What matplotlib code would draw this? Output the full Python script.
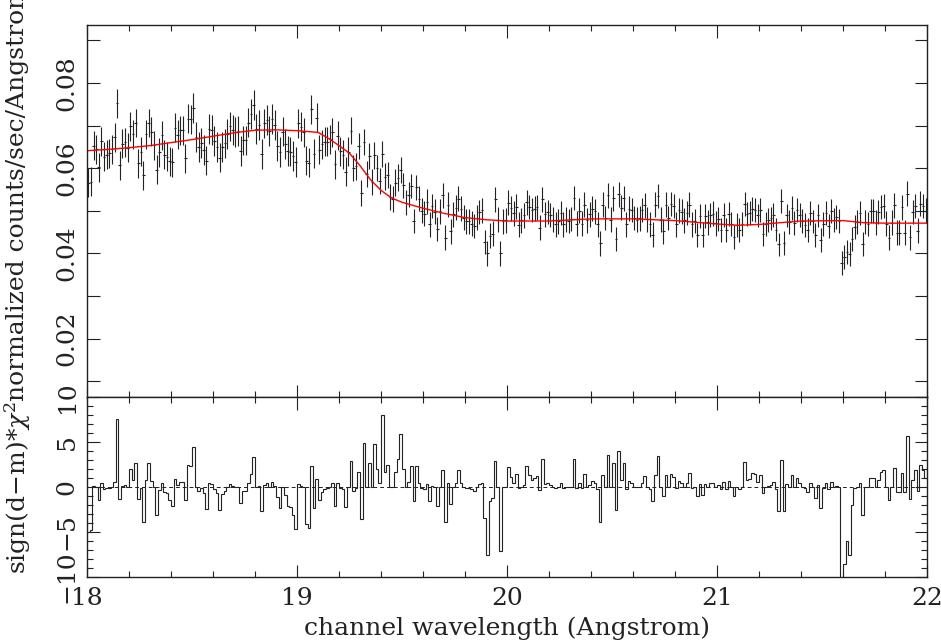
import numpy as np
import matplotlib
matplotlib.use('Agg')
import matplotlib.pyplot as plt
from matplotlib.ticker import MultipleLocator, FixedLocator

plt.rcParams['font.family'] = ['DejaVu Serif']
plt.rcParams['mathtext.fontset'] = 'dejavuserif'

# 320 channels, 18-22 Angstrom
edges = np.linspace(18.0, 22.0, 321)
centres = 0.5 * (edges[:-1] + edges[1:])

flux = [
    0.0566, 0.0568, 0.0653, 0.0644, 0.0602, 0.0663, 0.0627, 0.0631,
    0.0635, 0.0644, 0.0672, 0.0752, 0.0607, 0.0657, 0.0661, 0.0648,
    0.0698, 0.0680, 0.0706, 0.0611, 0.0639, 0.0583, 0.0680, 0.0706,
    0.0685, 0.0654, 0.0596, 0.0637, 0.0677, 0.0632, 0.0627, 0.0616,
    0.0614, 0.0695, 0.0678, 0.0689, 0.0689, 0.0623, 0.0716, 0.0715,
    0.0742, 0.0673, 0.0650, 0.0660, 0.0642, 0.0618, 0.0692, 0.0690,
    0.0664, 0.0650, 0.0625, 0.0649, 0.0658, 0.0681, 0.0698, 0.0690,
    0.0684, 0.0688, 0.0640, 0.0665, 0.0665, 0.0707, 0.0728, 0.0748,
    0.0692, 0.0701, 0.0634, 0.0705, 0.0714, 0.0688, 0.0716, 0.0701,
    0.0653, 0.0637, 0.0686, 0.0657, 0.0640, 0.0639, 0.0629, 0.0615,
    0.0705, 0.0697, 0.0684, 0.0617, 0.0613, 0.0738, 0.0634, 0.0718,
    0.0643, 0.0656, 0.0662, 0.0662, 0.0668, 0.0684, 0.0609, 0.0676,
    0.0640, 0.0632, 0.0592, 0.0639, 0.0688, 0.0601, 0.0604, 0.0652,
    0.0542, 0.0662, 0.0587, 0.0628, 0.0567, 0.0630, 0.0600, 0.0570,
    0.0633, 0.0580, 0.0584, 0.0533, 0.0527, 0.0566, 0.0578, 0.0596,
    0.0560, 0.0519, 0.0538, 0.0558, 0.0476, 0.0555, 0.0528, 0.0500,
    0.0493, 0.0521, 0.0468, 0.0511, 0.0498, 0.0457, 0.0499, 0.0536,
    0.0437, 0.0514, 0.0452, 0.0492, 0.0507, 0.0528, 0.0505, 0.0484,
    0.0475, 0.0475, 0.0470, 0.0464, 0.0484, 0.0497, 0.0501, 0.0427,
    0.0400, 0.0442, 0.0446, 0.0527, 0.0479, 0.0400, 0.0475, 0.0478,
    0.0519, 0.0506, 0.0494, 0.0510, 0.0467, 0.0478, 0.0489, 0.0520,
    0.0509, 0.0502, 0.0505, 0.0508, 0.0460, 0.0527, 0.0492, 0.0497,
    0.0490, 0.0479, 0.0468, 0.0475, 0.0495, 0.0468, 0.0479, 0.0476,
    0.0481, 0.0530, 0.0470, 0.0500, 0.0470, 0.0514, 0.0478, 0.0492,
    0.0505, 0.0499, 0.0468, 0.0424, 0.0514, 0.0483, 0.0536, 0.0479,
    0.0529, 0.0434, 0.0539, 0.0507, 0.0529, 0.0468, 0.0505, 0.0502,
    0.0483, 0.0479, 0.0482, 0.0502, 0.0513, 0.0480, 0.0468, 0.0444,
    0.0514, 0.0535, 0.0479, 0.0452, 0.0514, 0.0483, 0.0516, 0.0511,
    0.0468, 0.0501, 0.0498, 0.0478, 0.0495, 0.0514, 0.0468, 0.0476,
    0.0443, 0.0488, 0.0444, 0.0488, 0.0473, 0.0490, 0.0493, 0.0471,
    0.0481, 0.0455, 0.0490, 0.0455, 0.0492, 0.0469, 0.0439, 0.0466,
    0.0454, 0.0468, 0.0515, 0.0493, 0.0495, 0.0504, 0.0502, 0.0489,
    0.0502, 0.0445, 0.0470, 0.0478, 0.0482, 0.0491, 0.0456, 0.0421,
    0.0523, 0.0425, 0.0489, 0.0474, 0.0506, 0.0471, 0.0502, 0.0491,
    0.0477, 0.0467, 0.0454, 0.0494, 0.0475, 0.0444, 0.0489, 0.0432,
    0.0468, 0.0495, 0.0464, 0.0499, 0.0478, 0.0486, 0.0476, 0.0378,
    0.0392, 0.0404, 0.0399, 0.0434, 0.0462, 0.0474, 0.0495, 0.0422,
    0.0473, 0.0469, 0.0500, 0.0500, 0.0472, 0.0497, 0.0509, 0.0511,
    0.0470, 0.0437, 0.0472, 0.0513, 0.0449, 0.0449, 0.0508, 0.0449,
    0.0540, 0.0438, 0.0497, 0.0511, 0.0453, 0.0517, 0.0511, 0.0500,
]

# one error per 0.25 A stretch (20 channels each)
err_seg = [0.0034, 0.0034, 0.0035, 0.0035, 0.0034, 0.0031, 0.0029, 0.0029,
           0.0029, 0.0029, 0.0029, 0.0029, 0.0028, 0.0028, 0.0028, 0.0029]

model_wave = [18.0, 18.1, 18.2, 18.3, 18.4, 18.5, 18.6, 18.7, 18.8, 18.9, 19.0,
              19.1, 19.15, 19.2, 19.25, 19.3, 19.35, 19.4, 19.45, 19.5, 19.6,
              19.7, 19.8, 19.9, 20.0, 20.2, 20.4, 20.6, 20.8, 21.0, 21.1, 21.2,
              21.3, 21.4, 21.6, 21.7, 21.8, 22.0]
model_flux = [0.0641, 0.0644, 0.0648, 0.0653, 0.0660, 0.0667, 0.0675, 0.0683,
              0.0689, 0.0690, 0.0688, 0.0684, 0.0670, 0.0653, 0.0635, 0.0606,
              0.0573, 0.0548, 0.0530, 0.0520, 0.0506, 0.0494, 0.0484, 0.0479,
              0.0476, 0.0476, 0.0481, 0.0481, 0.0477, 0.0469, 0.0466, 0.0468,
              0.0472, 0.0476, 0.0477, 0.0472, 0.0471, 0.0471]

# sign(d-m)*chi^2 per channel
resid = [
    -5.0, -4.8, 0.1, 0.0, -1.4, 0.4, -0.2, -0.1,
    -0.1, 0.0, 0.6, 7.6, -1.3, 0.1, 0.2, 0.0,
    2.0, 0.8, 2.7, -1.3, -0.1, -3.9, 0.8, 2.7,
    0.7, 0.0, -3.1, -0.3, 0.4, -0.5, -0.7, -1.4,
    -2.1, 0.9, 0.2, 0.6, 0.6, -1.4, 2.4, 2.3,
    4.4, 0.0, -0.4, -0.1, -0.7, -2.4, 0.4, 0.3,
    -0.2, -0.7, -2.5, -0.8, -0.4, 0.0, 0.3, 0.1,
    0.0, 0.0, -1.8, -0.4, -0.4, 0.4, 1.5, 3.3,
    0.0, 0.1, -2.7, 0.2, 0.5, 0.0, 0.6, 0.1,
    -1.1, -2.3, 0.0, -0.9, -2.1, -2.2, -3.1, -4.7,
    0.3, 0.1, 0.0, -4.1, -4.6, 2.3, -2.3, 0.9,
    -1.4, -0.5, -0.2, -0.1, 0.0, 0.4, -2.1, 0.4,
    -0.1, -0.2, -2.2, 0.0, 2.9, -0.4, -0.1, 1.7,
    -3.6, 4.9, 0.0, 2.7, 0.0, 4.8, 2.0, 0.4,
    8.0, 1.7, 2.4, 0.0, 0.0, 1.7, 3.1, 5.9,
    2.0, 0.0, 0.6, 2.3, -1.6, 2.3, 0.4, -0.1,
    -0.2, 0.3, -1.5, 0.1, 0.0, -2.1, 0.0, 1.9,
    -3.9, 0.5, -1.9, 0.0, 0.4, 1.9, 0.4, 0.0,
    -0.1, -0.1, -0.2, -0.4, 0.0, 0.3, 0.5, -3.4,
    -7.5, -1.6, -1.2, 2.9, 0.0, -7.1, 0.0, 0.0,
    2.2, 1.1, 0.4, 1.4, -0.1, 0.0, 0.2, 2.3,
    1.3, 0.8, 1.0, 1.2, -0.3, 3.1, 0.3, 0.5,
    0.2, 0.0, -0.1, 0.0, 0.4, -0.1, 0.0, 0.0,
    0.0, 3.1, -0.1, 0.5, -0.1, 1.5, 0.0, 0.2,
    0.7, 0.4, -0.2, -3.9, 1.3, 0.0, 3.6, 0.0,
    2.7, -2.6, 4.0, 0.8, 2.7, -0.2, 0.7, 0.5,
    0.0, 0.0, 0.0, 0.5, 1.2, 0.0, -0.2, -1.6,
    1.3, 3.5, 0.0, -1.0, 1.3, 0.0, 1.5, 1.1,
    -0.1, 0.7, 0.5, 0.0, 0.4, 1.6, -0.1, 0.0,
    -1.0, 0.3, -0.9, 0.3, 0.0, 0.4, 0.5, 0.0,
    0.2, -0.2, 0.6, -0.2, 0.7, 0.0, -1.0, 0.0,
    -0.2, 0.0, 2.8, 0.8, 0.9, 1.6, 1.5, 0.6,
    1.3, -0.7, 0.0, 0.1, 0.2, 0.6, -0.2, -2.7,
    3.0, -2.7, 0.3, 0.0, 1.3, 0.0, 1.0, 0.4,
    0.0, -0.1, -0.6, 0.4, 0.0, -1.2, 0.2, -2.3,
    -0.1, 0.4, -0.2, 0.6, 0.0, 0.1, 0.0, -10.5,
    -8.6, -6.0, -7.5, -2.0, -0.1, 0.0, 0.5, -3.1,
    0.0, 0.0, 1.0, 1.0, 0.0, 0.8, 1.7, 1.9,
    0.0, -1.4, 0.0, 2.1, -0.6, -0.6, 1.6, -0.6,
    5.7, -1.3, 0.8, 1.9, -0.4, 2.5, 1.9, 1.0,
]

err = np.repeat(err_seg, 20)
half_w = 0.5 * (edges[1] - edges[0])

W, H = 941, 643
fig = plt.figure(figsize=(W / 100, H / 100), dpi=100)
ax1 = fig.add_axes([87 / W, 1 - 397 / H, 840 / W, 372 / H])
ax2 = fig.add_axes([87 / W, 1 - 577 / H, 840 / W, 180 / H], sharex=ax1)

ink = '#222222'
ax1.errorbar(centres, flux, xerr=half_w, yerr=err, fmt='none',
             ecolor=ink, elinewidth=0.8, capsize=0)
ax1.plot(model_wave, model_flux, color='red', lw=1.0)
ax1.set_xlim(18, 22)
ax1.set_ylim(0.0063, 0.0936)

ax2.axhline(0, color=ink, lw=0.7, ls=(0, (4, 3)))
ax2.stairs(resid, edges, color=ink, lw=0.8, baseline=None)
ax2.set_ylim(-10, 10)

for ax in (ax1, ax2):
    for s in ax.spines.values():
        s.set_linewidth(1.0)
        s.set_color(ink)
    ax.xaxis.set_major_locator(MultipleLocator(1))
    ax.xaxis.set_minor_locator(MultipleLocator(0.2))
    ax.tick_params(which='both', direction='in', top=True, right=True,
                   colors=ink, labelsize=18, width=0.8)
    ax.tick_params(which='major', length=9)
    ax.tick_params(which='minor', length=4)

ax1.yaxis.set_major_locator(FixedLocator([0.02, 0.04, 0.06, 0.08]))
ax1.yaxis.set_minor_locator(MultipleLocator(0.01))
ax1.tick_params(axis='y', which='minor', length=9)
ax1.set_yticklabels(['0.02', '0.04', '0.06', '0.08'])
ax1.tick_params(axis='x', labelbottom=False)

ax2.yaxis.set_major_locator(FixedLocator([-10, -5, 0, 5, 10]))
ax2.yaxis.set_minor_locator(MultipleLocator(1))
ax2.set_yticklabels(['\u221210', '\u22125', '0', '5', '10'])

for ax in (ax1, ax2):
    for lab in ax.get_yticklabels():
        lab.set_rotation(90)
        lab.set_va('center')
        lab.set_ha('right')
    ax.tick_params(axis='y', pad=6)
ax2.tick_params(axis='x', pad=7)

ax2.set_xlabel('channel wavelength (Angstrom)', fontsize=18, color=ink, labelpad=5)
fig.text(18 / W, 1 - 193 / H, 'normalized counts/sec/Angstrom', rotation=90,
         ha='center', va='center', fontsize=18, color=ink)
fig.text(18 / W, 1 - 487 / H, r'sign(d$-$m)*$\chi^2$', rotation=90,
         ha='center', va='center', fontsize=18, color=ink)

fig.savefig('out.png', dpi=100)
